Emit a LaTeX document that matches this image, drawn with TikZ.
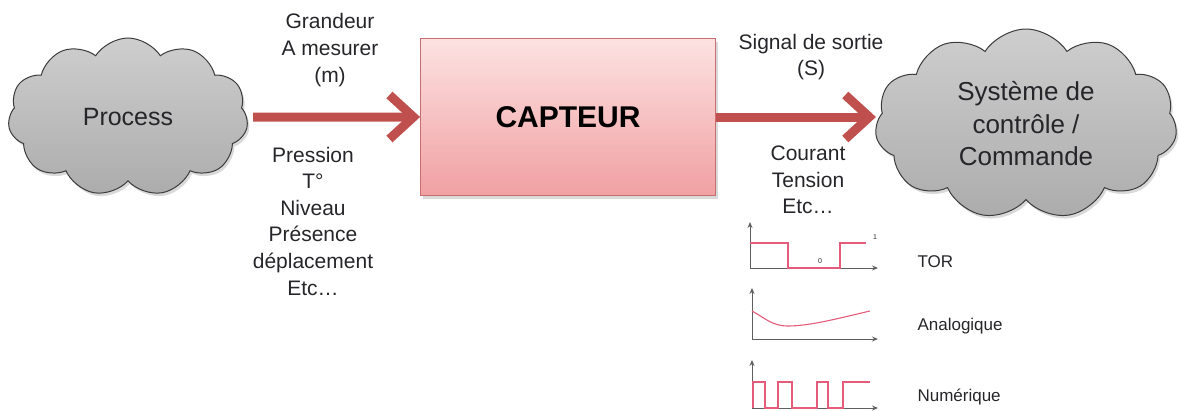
\documentclass[tikz,border=0pt]{standalone}
\usepackage{fontspec}
\setmainfont{Liberation Sans}
\usepackage{xcolor}
\usetikzlibrary{arrows.meta,shapes.symbols,shadows,positioning}
\definecolor{flowred}{RGB}{192,80,77}
\definecolor{boxtop}{RGB}{253,226,226}
\definecolor{boxbot}{RGB}{240,160,162}
\definecolor{boxedge}{RGB}{200,110,110}
\definecolor{cloudtop}{RGB}{206,206,206}
\definecolor{cloudbot}{RGB}{172,172,172}
\definecolor{cloudedge}{RGB}{60,60,60}
\definecolor{txtdark}{RGB}{38,38,42}
\definecolor{sigpink}{RGB}{228,92,122}
\definecolor{axisgray}{RGB}{95,95,95}

\begin{document}
\begin{tikzpicture}[x=1pt,y=-1pt,
    cloudnode/.style={cloud,cloud puffs=11,cloud puff arc=115,cloud ignores aspect,
      draw=cloudedge,line width=1pt,top color=cloudtop,bottom color=cloudbot,
      drop shadow={opacity=0.3,shadow xshift=2pt,shadow yshift=-3pt},
      align=center,text=txtdark},
    sensor/.style={rectangle,draw=boxedge,line width=0.8pt,top color=boxtop,bottom color=boxbot,
      minimum width=295pt,minimum height=157pt,
      drop shadow={opacity=0.3,shadow xshift=2pt,shadow yshift=-3pt},
      font=\fontsize{30}{36}\selectfont\bfseries},
    flow/.style={flowred,line width=9pt,-{Straight Barb[length=24pt,width=44pt]}},
    lbl/.style={align=center,text=txtdark,font=\fontsize{21}{26.6}\selectfont},
    sigtxt/.style={anchor=west,text=txtdark,font=\fontsize{17}{20}\selectfont},
    tiny/.style={text=txtdark,inner sep=0pt,font=\fontsize{7}{8}\selectfont},
    axis/.style={axisgray,line width=1pt,{Stealth[length=6pt,width=5pt]}-{Stealth[length=6pt,width=5pt]}},
    signal/.style={sigpink,line width=1.1pt}]
    \useasboundingbox (0,0) rectangle (1179,410);

    % Process cloud
    \node[cloudnode,minimum width=240pt,minimum height=158pt,
      font=\fontsize{25}{30}\selectfont] (process) at (128,117) {Process};

    % Sensor block
    \node[sensor] (capteur) at (568,117) {CAPTEUR};

    % Control system cloud
    \node[cloudnode,minimum width=302pt,minimum height=190pt,
      font=\fontsize{26}{32.5}\selectfont] (systeme) at (1026,124) {Système de\\contrôle /\\Commande};

    % Flow arrows
    \draw[flow,shorten <=6pt] (process.east) -- (capteur.west);
    \draw[flow] (capteur.east) -- (capteur.east -| systeme.west);

    % Labels round the arrows
    \node[lbl] (grandeur) at (330,50) {Grandeur\\A mesurer\\(m)};
    \node[lbl] (mesures) at (313,221) {Pression\\T°\\Niveau\\Présence\\déplacement\\Etc…};
    \node[lbl] (sortie) at (811,57) {Signal de sortie\\(S)};
    \node[lbl] (types) at (808,180) {Courant\\Tension\\Etc…};

    % TOR signal
    \draw[axis] (750,222) -- (750,268) -- (878,268);
    \draw[signal] (750,243) -- (788,243) -- (788,268) -- (840,268) -- (840,243) -- (866,243);
    \node[tiny] (zero) at (820,261) {0};
    \node[tiny] (one) at (875,237) {1};
    \node[sigtxt] (tor) at (914,262) {TOR};

    % Analog signal
    \draw[axis] (752,288) -- (752,339) -- (878,339);
    \draw[signal] (752,311) .. controls (765,318) and (772,326) .. (788,326)
      .. controls (810,326) and (840,318) .. (870,311);
    \node[sigtxt] (analog) at (914,326) {Analogique};

    % Digital signal
    \draw[axis] (752,360) -- (752,408) -- (878,408);
    \draw[signal] (753,408) -- (753,382) -- (765,382) -- (765,408) -- (778,408) -- (778,382)
      -- (792,382) -- (792,408) -- (817,408) -- (817,382) -- (828,382) -- (828,408)
      -- (843,408) -- (843,382) -- (870,382);
    \node[sigtxt] (digital) at (914,397) {Numérique};
\end{tikzpicture}
\end{document}
